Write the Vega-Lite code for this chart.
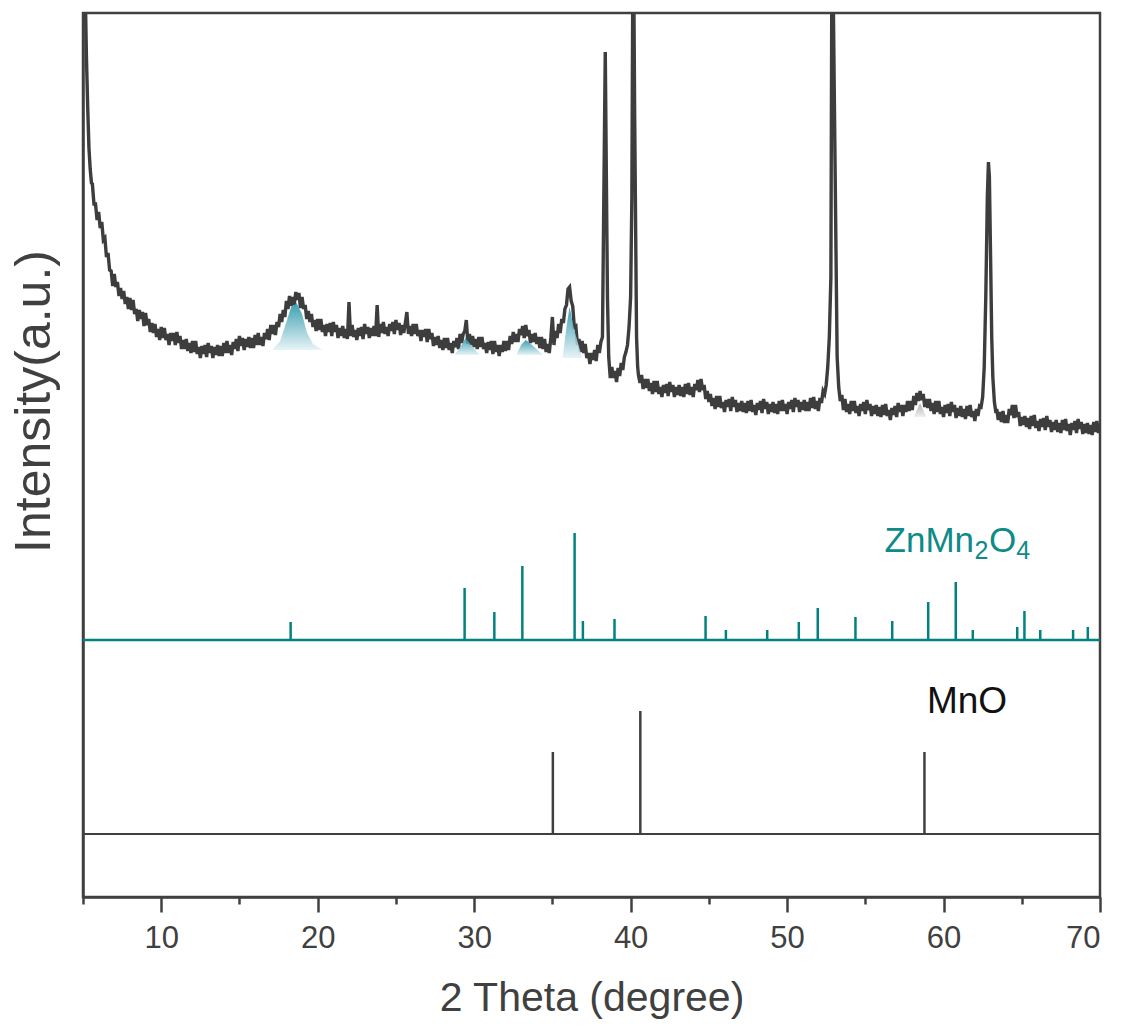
{
  "$schema": "https://vega.github.io/schema/vega-lite/v6.json",
  "width": 1017,
  "height": 884,
  "autosize": {"type": "none"},
  "padding": {"left": 83, "top": 13, "right": 23, "bottom": 131},
  "config": {"view": {"stroke": "#404040", "strokeWidth": 2.5}, "font": "Liberation Sans"},
  "datasets": {
    "xrd": [
      {"x":5.15,"y":900},{"x":5.22,"y":840},{"x":5.3,"y":790},{"x":5.38,"y":749},{"x":5.46,"y":728},{"x":5.54,"y":714},
      {"x":5.6,"y":713},{"x":5.7,"y":693},{"x":5.8,"y":693},{"x":5.9,"y":677},{"x":6.0,"y":685},{"x":6.1,"y":669},{"x":6.2,"y":675},{"x":6.3,"y":657},{"x":6.4,"y":659},{"x":6.5,"y":640},
      {"x":6.6,"y":644},{"x":6.7,"y":627},{"x":6.8,"y":626},{"x":6.9,"y":611},{"x":7.0,"y":623},{"x":7.1,"y":610},{"x":7.2,"y":615},{"x":7.3,"y":601},{"x":7.4,"y":609},{"x":7.5,"y":598},
      {"x":7.6,"y":606},{"x":7.7,"y":593},{"x":7.8,"y":600},{"x":7.9,"y":588},{"x":8.0,"y":599},{"x":8.1,"y":587},{"x":8.2,"y":597},{"x":8.3,"y":583},{"x":8.4,"y":588},{"x":8.5,"y":576},
      {"x":8.6,"y":587},{"x":8.7,"y":578},{"x":8.8,"y":585},{"x":8.9,"y":571},{"x":9.0,"y":584},{"x":9.1,"y":572},{"x":9.2,"y":578},{"x":9.3,"y":565},{"x":9.4,"y":574},{"x":9.5,"y":564},
      {"x":9.6,"y":573},{"x":9.7,"y":560},{"x":9.8,"y":568},{"x":9.9,"y":557},{"x":10.0,"y":570},{"x":10.1,"y":559},{"x":10.2,"y":569},{"x":10.3,"y":557},{"x":10.4,"y":563},{"x":10.5,"y":552},
      {"x":10.6,"y":564},{"x":10.7,"y":556},{"x":10.8,"y":564},{"x":10.9,"y":552},{"x":11.0,"y":565},{"x":11.1,"y":554},{"x":11.2,"y":561},{"x":11.3,"y":548},{"x":11.4,"y":557},{"x":11.5,"y":548},
      {"x":11.6,"y":558},{"x":11.7,"y":546},{"x":11.8,"y":554},{"x":11.9,"y":544},{"x":12.0,"y":556},{"x":12.1,"y":545},{"x":12.2,"y":556},{"x":12.3,"y":543},{"x":12.4,"y":550},{"x":12.5,"y":539},
      {"x":12.6,"y":551},{"x":12.7,"y":543},{"x":12.8,"y":552},{"x":12.9,"y":540},{"x":13.0,"y":554},{"x":13.1,"y":544},{"x":13.2,"y":551},{"x":13.3,"y":539},{"x":13.4,"y":550},{"x":13.5,"y":542},
      {"x":13.6,"y":552},{"x":13.7,"y":541},{"x":13.8,"y":551},{"x":13.9,"y":541},{"x":14.0,"y":554},{"x":14.1,"y":544},{"x":14.2,"y":556},{"x":14.3,"y":544},{"x":14.4,"y":552},{"x":14.5,"y":542},
      {"x":14.6,"y":555},{"x":14.7,"y":548},{"x":14.8,"y":558},{"x":14.9,"y":546},{"x":15.0,"y":561},{"x":15.1,"y":551},{"x":15.2,"y":559},{"x":15.3,"y":547},{"x":15.4,"y":558},{"x":15.5,"y":550},
      {"x":15.6,"y":560},{"x":15.7,"y":549},{"x":15.8,"y":559},{"x":15.9,"y":549},{"x":16.0,"y":562},{"x":16.1,"y":552},{"x":16.2,"y":564},{"x":16.3,"y":552},{"x":16.4,"y":560},{"x":16.5,"y":551},
      {"x":16.6,"y":564},{"x":16.7,"y":558},{"x":16.8,"y":568},{"x":16.9,"y":557},{"x":17.0,"y":572},{"x":17.1,"y":563},{"x":17.2,"y":572},{"x":17.3,"y":562},{"x":17.4,"y":575},{"x":17.5,"y":570},
      {"x":17.6,"y":583},{"x":17.7,"y":575},{"x":17.8,"y":587},{"x":17.9,"y":580},{"x":18.0,"y":596},{"x":18.1,"y":588},{"x":18.2,"y":601},{"x":18.3,"y":591},{"x":18.4,"y":600},{"x":18.5,"y":592},
      {"x":18.6,"y":605},{"x":18.7,"y":597},{"x":18.8,"y":604},{"x":18.9,"y":589},{"x":19.0,"y":600},{"x":19.1,"y":588},{"x":19.2,"y":592},{"x":19.3,"y":578},{"x":19.4,"y":586},{"x":19.5,"y":575},
      {"x":19.6,"y":583},{"x":19.7,"y":570},{"x":19.8,"y":577},{"x":19.9,"y":566},{"x":20.0,"y":578},{"x":20.1,"y":567},{"x":20.2,"y":578},{"x":20.3,"y":565},{"x":20.4,"y":572},{"x":20.5,"y":561},
      {"x":20.6,"y":573},{"x":20.7,"y":565},{"x":20.8,"y":574},{"x":20.9,"y":561},{"x":21.0,"y":575},{"x":21.1,"y":565},{"x":21.2,"y":572},{"x":21.3,"y":559},{"x":21.4,"y":569},{"x":21.5,"y":561},
      {"x":21.6,"y":571},{"x":21.7,"y":559},{"x":21.8,"y":568},{"x":21.9,"y":558},{"x":22.0,"y":595},{"x":22.1,"y":561},{"x":22.2,"y":572},{"x":22.3,"y":560},{"x":22.4,"y":567},{"x":22.5,"y":557},
      {"x":22.6,"y":569},{"x":22.7,"y":561},{"x":22.8,"y":570},{"x":22.9,"y":558},{"x":23.0,"y":573},{"x":23.1,"y":563},{"x":23.2,"y":570},{"x":23.3,"y":559},{"x":23.4,"y":569},{"x":23.5,"y":561},
      {"x":23.6,"y":571},{"x":23.7,"y":561},{"x":23.8,"y":592},{"x":23.9,"y":560},{"x":24.0,"y":573},{"x":24.1,"y":564},{"x":24.2,"y":575},{"x":24.3,"y":563},{"x":24.4,"y":570},{"x":24.5,"y":561},
      {"x":24.6,"y":573},{"x":24.7,"y":566},{"x":24.8,"y":575},{"x":24.9,"y":563},{"x":25.0,"y":577},{"x":25.1,"y":567},{"x":25.2,"y":574},{"x":25.3,"y":562},{"x":25.4,"y":572},{"x":25.5,"y":564},
      {"x":25.6,"y":574},{"x":25.7,"y":585},{"x":25.8,"y":563},{"x":25.9,"y":571},{"x":26.0,"y":561},{"x":26.1,"y":573},{"x":26.2,"y":563},{"x":26.3,"y":573},{"x":26.4,"y":561},{"x":26.5,"y":567},
      {"x":26.6,"y":556},{"x":26.7,"y":567},{"x":26.8,"y":560},{"x":26.9,"y":568},{"x":27.0,"y":555},{"x":27.1,"y":568},{"x":27.2,"y":558},{"x":27.3,"y":564},{"x":27.4,"y":551},{"x":27.5,"y":560},
      {"x":27.6,"y":552},{"x":27.7,"y":561},{"x":27.8,"y":549},{"x":27.9,"y":557},{"x":28.0,"y":547},{"x":28.1,"y":559},{"x":28.2,"y":549},{"x":28.3,"y":559},{"x":28.4,"y":547},{"x":28.5,"y":554},
      {"x":28.6,"y":544},{"x":28.7,"y":556},{"x":28.8,"y":550},{"x":28.9,"y":559},{"x":29.0,"y":548},{"x":29.1,"y":563},{"x":29.2,"y":554},{"x":29.3,"y":563},{"x":29.4,"y":566},{"x":29.5,"y":577},
      {"x":29.6,"y":553},{"x":29.7,"y":563},{"x":29.8,"y":552},{"x":29.9,"y":561},{"x":30.0,"y":550},{"x":30.1,"y":558},{"x":30.2,"y":548},{"x":30.3,"y":560},{"x":30.4,"y":550},{"x":30.5,"y":560},
      {"x":30.6,"y":548},{"x":30.7,"y":554},{"x":30.8,"y":544},{"x":30.9,"y":555},{"x":31.0,"y":547},{"x":31.1,"y":556},{"x":31.2,"y":543},{"x":31.3,"y":556},{"x":31.4,"y":545},{"x":31.5,"y":552},
      {"x":31.6,"y":541},{"x":31.7,"y":552},{"x":31.8,"y":545},{"x":31.9,"y":556},{"x":32.0,"y":546},{"x":32.1,"y":556},{"x":32.2,"y":547},{"x":32.3,"y":561},{"x":32.4,"y":553},{"x":32.5,"y":565},
      {"x":32.6,"y":555},{"x":32.7,"y":563},{"x":32.8,"y":555},{"x":32.9,"y":568},{"x":33.0,"y":562},{"x":33.1,"y":571},{"x":33.2,"y":559},{"x":33.3,"y":572},{"x":33.4,"y":561},{"x":33.5,"y":567},
      {"x":33.6,"y":554},{"x":33.7,"y":563},{"x":33.8,"y":555},{"x":33.9,"y":564},{"x":34.0,"y":553},{"x":34.1,"y":560},{"x":34.2,"y":549},{"x":34.3,"y":560},{"x":34.4,"y":548},{"x":34.5,"y":558},
      {"x":34.6,"y":545},{"x":34.7,"y":553},{"x":34.8,"y":544},{"x":34.9,"y":559},{"x":35.0,"y":580},{"x":35.1,"y":552},{"x":35.2,"y":566},{"x":35.3,"y":559},{"x":35.4,"y":573},{"x":35.5,"y":564},
      {"x":35.6,"y":578},{"x":35.7,"y":574},{"x":35.8,"y":588},{"x":35.9,"y":592},{"x":36.0,"y":608},{"x":36.1,"y":610},{"x":36.2,"y":596},{"x":36.3,"y":591},{"x":36.4,"y":570},{"x":36.5,"y":571},
      {"x":36.6,"y":552},{"x":36.7,"y":558},{"x":36.8,"y":545},{"x":36.9,"y":556},{"x":37.0,"y":544},{"x":37.1,"y":553},{"x":37.2,"y":539},{"x":37.3,"y":544},{"x":37.4,"y":533},{"x":37.5,"y":544},
      {"x":37.6,"y":537},{"x":37.7,"y":547},{"x":37.8,"y":536},{"x":37.9,"y":552},{"x":38.0,"y":544},{"x":38.1,"y":555},{"x":38.2,"y":560},{"x":38.3,"y":720},{"x":38.38,"y":845},{"x":38.45,"y":720},
      {"x":38.52,"y":600},{"x":38.6,"y":540},{"x":38.7,"y":519},{"x":38.8,"y":530},{"x":38.9,"y":519},{"x":39.0,"y":526},{"x":39.1,"y":515},{"x":39.2,"y":529},{"x":39.3,"y":521},{"x":39.4,"y":534},
      {"x":39.5,"y":527},{"x":39.6,"y":540},{"x":39.7,"y":545},{"x":39.8,"y":552},{"x":39.9,"y":570},{"x":40.0,"y":600},{"x":40.08,"y":700},{"x":40.14,"y":920},{"x":40.2,"y":920},{"x":40.26,"y":780},
      {"x":40.32,"y":670},{"x":40.38,"y":560},{"x":40.45,"y":530},{"x":40.5,"y":522},{"x":40.6,"y":514},{"x":40.7,"y":522},{"x":40.8,"y":508},{"x":40.9,"y":518},{"x":41.0,"y":509},{"x":41.1,"y":518},
      {"x":41.2,"y":506},{"x":41.3,"y":514},{"x":41.4,"y":503},{"x":41.5,"y":516},{"x":41.6,"y":505},{"x":41.7,"y":516},{"x":41.8,"y":503},{"x":41.9,"y":510},{"x":42.0,"y":500},{"x":42.1,"y":512},
      {"x":42.2,"y":504},{"x":42.3,"y":513},{"x":42.4,"y":501},{"x":42.5,"y":515},{"x":42.6,"y":505},{"x":42.7,"y":512},{"x":42.8,"y":500},{"x":42.9,"y":510},{"x":43.0,"y":502},{"x":43.1,"y":512},
      {"x":43.2,"y":501},{"x":43.3,"y":510},{"x":43.4,"y":500},{"x":43.5,"y":513},{"x":43.6,"y":503},{"x":43.7,"y":514},{"x":43.8,"y":502},{"x":43.9,"y":510},{"x":44.0,"y":500},{"x":44.1,"y":513},
      {"x":44.2,"y":507},{"x":44.3,"y":517},{"x":44.4,"y":505},{"x":44.5,"y":518},{"x":44.6,"y":507},{"x":44.7,"y":512},{"x":44.8,"y":498},{"x":44.9,"y":506},{"x":45.0,"y":495},{"x":45.1,"y":503},
      {"x":45.2,"y":491},{"x":45.3,"y":499},{"x":45.4,"y":488},{"x":45.5,"y":501},{"x":45.6,"y":490},{"x":45.7,"y":501},{"x":45.8,"y":489},{"x":45.9,"y":495},{"x":46.0,"y":485},{"x":46.1,"y":497},
      {"x":46.2,"y":490},{"x":46.3,"y":498},{"x":46.4,"y":486},{"x":46.5,"y":500},{"x":46.6,"y":490},{"x":46.7,"y":497},{"x":46.8,"y":485},{"x":46.9,"y":494},{"x":47.0,"y":486},{"x":47.1,"y":496},
      {"x":47.2,"y":485},{"x":47.3,"y":494},{"x":47.4,"y":484},{"x":47.5,"y":496},{"x":47.6,"y":486},{"x":47.7,"y":497},{"x":47.8,"y":485},{"x":47.9,"y":492},{"x":48.0,"y":482},{"x":48.1,"y":494},
      {"x":48.2,"y":487},{"x":48.3,"y":496},{"x":48.4,"y":484},{"x":48.5,"y":498},{"x":48.6,"y":488},{"x":48.7,"y":495},{"x":48.8,"y":483},{"x":48.9,"y":493},{"x":49.0,"y":485},{"x":49.1,"y":495},
      {"x":49.2,"y":484},{"x":49.3,"y":493},{"x":49.4,"y":483},{"x":49.5,"y":496},{"x":49.6,"y":486},{"x":49.7,"y":497},{"x":49.8,"y":486},{"x":49.9,"y":493},{"x":50.0,"y":483},{"x":50.1,"y":495},
      {"x":50.2,"y":488},{"x":50.3,"y":497},{"x":50.4,"y":485},{"x":50.5,"y":499},{"x":50.6,"y":490},{"x":50.7,"y":497},{"x":50.8,"y":485},{"x":50.9,"y":495},{"x":51.0,"y":487},{"x":51.1,"y":497},
      {"x":51.2,"y":486},{"x":51.3,"y":495},{"x":51.4,"y":486},{"x":51.5,"y":499},{"x":51.6,"y":489},{"x":51.7,"y":500},{"x":51.8,"y":488},{"x":51.9,"y":496},{"x":52.0,"y":486},{"x":52.1,"y":499},
      {"x":52.2,"y":494},{"x":52.3,"y":506},{"x":52.4,"y":503},{"x":52.5,"y":512},{"x":52.6,"y":530},{"x":52.7,"y":560},{"x":52.8,"y":620},{"x":52.86,"y":920},{"x":52.94,"y":920},{"x":53.02,"y":800},
      {"x":53.1,"y":684},{"x":53.2,"y":540},{"x":53.3,"y":510},{"x":53.4,"y":496},{"x":53.5,"y":502},{"x":53.6,"y":487},{"x":53.7,"y":498},{"x":53.8,"y":485},{"x":53.9,"y":493},{"x":54.0,"y":483},
      {"x":54.1,"y":496},{"x":54.2,"y":486},{"x":54.3,"y":496},{"x":54.4,"y":484},{"x":54.5,"y":491},{"x":54.6,"y":481},{"x":54.7,"y":493},{"x":54.8,"y":486},{"x":54.9,"y":495},{"x":55.0,"y":483},
      {"x":55.1,"y":497},{"x":55.2,"y":487},{"x":55.3,"y":493},{"x":55.4,"y":481},{"x":55.5,"y":491},{"x":55.6,"y":483},{"x":55.7,"y":492},{"x":55.8,"y":481},{"x":55.9,"y":490},{"x":56.0,"y":480},
      {"x":56.1,"y":492},{"x":56.2,"y":482},{"x":56.3,"y":493},{"x":56.4,"y":481},{"x":56.5,"y":487},{"x":56.6,"y":477},{"x":56.7,"y":489},{"x":56.8,"y":482},{"x":56.9,"y":491},{"x":57.0,"y":480},
      {"x":57.1,"y":494},{"x":57.2,"y":485},{"x":57.3,"y":492},{"x":57.4,"y":481},{"x":57.5,"y":492},{"x":57.6,"y":485},{"x":57.7,"y":496},{"x":57.8,"y":486},{"x":57.9,"y":496},{"x":58.0,"y":487},
      {"x":58.1,"y":501},{"x":58.2,"y":492},{"x":58.3,"y":504},{"x":58.4,"y":496},{"x":58.5,"y":506},{"x":58.6,"y":497},{"x":58.7,"y":503},{"x":58.8,"y":490},{"x":58.9,"y":498},{"x":59.0,"y":489},
      {"x":59.1,"y":498},{"x":59.2,"y":486},{"x":59.3,"y":494},{"x":59.4,"y":483},{"x":59.5,"y":496},{"x":59.6,"y":485},{"x":59.7,"y":496},{"x":59.8,"y":483},{"x":59.9,"y":490},{"x":60.0,"y":480},
      {"x":60.1,"y":492},{"x":60.2,"y":484},{"x":60.3,"y":493},{"x":60.4,"y":481},{"x":60.5,"y":495},{"x":60.6,"y":485},{"x":60.7,"y":492},{"x":60.8,"y":479},{"x":60.9,"y":489},{"x":61.0,"y":481},
      {"x":61.1,"y":491},{"x":61.2,"y":480},{"x":61.3,"y":488},{"x":61.4,"y":478},{"x":61.5,"y":491},{"x":61.6,"y":481},{"x":61.7,"y":492},{"x":61.8,"y":480},{"x":61.9,"y":486},{"x":62.0,"y":476},
      {"x":62.1,"y":488},{"x":62.2,"y":481},{"x":62.3,"y":491},{"x":62.4,"y":490},{"x":62.5,"y":500},{"x":62.6,"y":530},{"x":62.7,"y":600},{"x":62.8,"y":700},{"x":62.87,"y":735},{"x":62.93,"y":720},
      {"x":63.0,"y":647},{"x":63.08,"y":560},{"x":63.15,"y":520},{"x":63.25,"y":495},{"x":63.35,"y":484},{"x":63.4,"y":488},{"x":63.5,"y":477},{"x":63.6,"y":485},{"x":63.7,"y":475},{"x":63.8,"y":486},
      {"x":63.9,"y":474},{"x":64.0,"y":482},{"x":64.1,"y":474},{"x":64.2,"y":488},{"x":64.3,"y":482},{"x":64.4,"y":492},{"x":64.5,"y":479},{"x":64.6,"y":492},{"x":64.7,"y":480},{"x":64.8,"y":485},
      {"x":64.9,"y":471},{"x":65.0,"y":480},{"x":65.1,"y":472},{"x":65.2,"y":481},{"x":65.3,"y":470},{"x":65.4,"y":479},{"x":65.5,"y":468},{"x":65.6,"y":481},{"x":65.7,"y":471},{"x":65.8,"y":482},
      {"x":65.9,"y":469},{"x":66.0,"y":476},{"x":66.1,"y":466},{"x":66.2,"y":478},{"x":66.3,"y":470},{"x":66.4,"y":479},{"x":66.5,"y":467},{"x":66.6,"y":481},{"x":66.7,"y":470},{"x":66.8,"y":477},
      {"x":66.9,"y":465},{"x":67.0,"y":475},{"x":67.1,"y":467},{"x":67.2,"y":477},{"x":67.3,"y":465},{"x":67.4,"y":474},{"x":67.5,"y":464},{"x":67.6,"y":477},{"x":67.7,"y":467},{"x":67.8,"y":478},
      {"x":67.9,"y":466},{"x":68.0,"y":473},{"x":68.1,"y":462},{"x":68.2,"y":474},{"x":68.3,"y":467},{"x":68.4,"y":476},{"x":68.5,"y":464},{"x":68.6,"y":478},{"x":68.7,"y":468},{"x":68.8,"y":475},
      {"x":68.9,"y":463},{"x":69.0,"y":473},{"x":69.1,"y":464},{"x":69.2,"y":474},{"x":69.3,"y":463},{"x":69.4,"y":472},{"x":69.5,"y":462},{"x":69.6,"y":475},{"x":69.7,"y":465},{"x":69.8,"y":476},
      {"x":69.9,"y":464},{"x":70.0,"y":471}
    ],
    "fills": [
      {"r":"a","x":17.1,"y":547,"y2":547},{"r":"a","x":17.6,"y":556,"y2":547},{"r":"a","x":18.0,"y":575,"y2":547},{"r":"a","x":18.3,"y":590,"y2":547},{"r":"a","x":18.65,"y":594,"y2":547},{"r":"a","x":19.0,"y":583,"y2":547},{"r":"a","x":19.3,"y":565,"y2":547},{"r":"a","x":19.7,"y":553,"y2":547},{"r":"a","x":20.3,"y":547,"y2":547},
      {"r":"b","x":28.75,"y":542,"y2":542},{"r":"b","x":29.2,"y":552,"y2":542},{"r":"b","x":29.45,"y":559,"y2":542},{"r":"b","x":29.8,"y":552,"y2":542},{"r":"b","x":30.35,"y":542,"y2":542},
      {"r":"c","x":32.7,"y":542,"y2":542},{"r":"c","x":33.0,"y":552,"y2":542},{"r":"c","x":33.3,"y":557,"y2":542},{"r":"c","x":33.7,"y":552,"y2":542},{"r":"c","x":34.4,"y":542,"y2":542},
      {"r":"d","x":35.65,"y":539,"y2":539},{"r":"d","x":35.9,"y":570,"y2":539},{"r":"d","x":36.1,"y":590,"y2":539},{"r":"d","x":36.35,"y":570,"y2":539},{"r":"d","x":36.9,"y":539,"y2":539}
    ],
    "grayfill": [
      {"r":"e","x":58.1,"y":480,"y2":480},{"r":"e","x":58.5,"y":494,"y2":480},{"r":"e","x":58.9,"y":480,"y2":480}
    ],
    "zmo": [
      {"x":18.27,"y":275},{"x":29.39,"y":309},{"x":31.29,"y":285},{"x":33.08,"y":331},{"x":36.42,"y":364},{"x":36.95,"y":276},{"x":38.97,"y":278},{"x":44.79,"y":281},{"x":46.09,"y":267},{"x":48.73,"y":267},{"x":50.75,"y":275},
      {"x":51.96,"y":289},{"x":54.37,"y":280},{"x":56.72,"y":276},{"x":59.02,"y":295},{"x":60.78,"y":315},{"x":61.87,"y":267},{"x":64.71,"y":270},{"x":65.17,"y":286},{"x":66.18,"y":267},{"x":68.28,"y":267},{"x":69.22,"y":270}
    ],
    "mno": [
      {"x":35.03,"y":145},{"x":40.62,"y":186},{"x":58.78,"y":145}
    ]
  },
  "encoding": {
    "x": {
      "field": "x", "type": "quantitative",
      "scale": {"domain": [5, 70], "nice": false, "zero": false},
      "axis": {
        "title": "2 Theta (degree)",
        "values": [5, 10, 15, 20, 25, 30, 35, 40, 45, 50, 55, 60, 65, 70],
        "labelExpr": "datum.value % 10 === 0 ? datum.label : ''",
        "grid": false,
        "domainColor": "#404040", "domainWidth": 2.5,
        "tickColor": "#404040", "tickWidth": 2.5,
        "tickSize": {"condition": {"test": "datum.value % 10 === 0", "value": 15}, "value": 7},
        "labelFont": "Liberation Sans", "labelFontSize": 31, "labelColor": "#404040", "labelPadding": 11,
        "titleFont": "Liberation Sans", "titleFontSize": 41, "titleFontWeight": "normal", "titleColor": "#404040", "titlePadding": 25
      }
    },
    "y": {
      "field": "y", "type": "quantitative",
      "scale": {"domain": [0, 884], "nice": false, "zero": false},
      "axis": {
        "title": "Intensity(a.u.)",
        "ticks": false, "labels": false, "grid": false,
        "domainColor": "#404040", "domainWidth": 2.5,
        "titleFont": "Liberation Sans", "titleFontSize": 50, "titleFontWeight": "normal", "titleColor": "#404040",
        "titlePadding": 24, "titleY": 388
      }
    }
  },
  "layer": [
    {
      "data": {"name": "xrd"},
      "mark": {"type": "line", "color": "#3d3d3d", "strokeWidth": 3.4, "strokeJoin": "miter", "clip": true}
    },
    {
      "data": {"name": "fills"},
      "mark": {"type": "area", "clip": true, "opacity": 0.85,
        "color": {"gradient": "linear", "x1": 0, "y1": 0, "x2": 0, "y2": 1,
          "stops": [{"offset": 0, "color": "#1a8ea3"}, {"offset": 1, "color": "#e3f2f5"}]}},
      "encoding": {"y2": {"field": "y2"}, "detail": {"field": "r"}}
    },
    {
      "data": {"name": "grayfill"},
      "mark": {"type": "area", "clip": true, "opacity": 0.8,
        "color": {"gradient": "linear", "x1": 0, "y1": 0, "x2": 0, "y2": 1,
          "stops": [{"offset": 0, "color": "#9a9a9a"}, {"offset": 1, "color": "#eeeeee"}]}},
      "encoding": {"y2": {"field": "y2"}, "detail": {"field": "r"}}
    },
    {
      "data": {"values": [{"x": 5, "x2": 70, "y": 257}]},
      "mark": {"type": "rule", "color": "#00827f", "strokeWidth": 2.5},
      "encoding": {"x2": {"field": "x2"}}
    },
    {
      "data": {"name": "zmo"},
      "mark": {"type": "rule", "color": "#00827f", "strokeWidth": 2.5},
      "encoding": {"y2": {"datum": 257}}
    },
    {
      "data": {"values": [{"x": 5, "x2": 70, "y": 63}]},
      "mark": {"type": "rule", "color": "#404040", "strokeWidth": 2},
      "encoding": {"x2": {"field": "x2"}}
    },
    {
      "data": {"name": "mno"},
      "mark": {"type": "rule", "color": "#404040", "strokeWidth": 2.5},
      "encoding": {"y2": {"datum": 63}}
    },
    {
      "data": {"values": [{"x": 56.23, "y": 345, "t": "ZnMn"}, {"x": 62.9, "y": 345, "t": "O"}]},
      "mark": {"type": "text", "font": "Liberation Sans", "fontSize": 35, "color": "#0e8a88", "align": "left", "baseline": "alphabetic"},
      "encoding": {"text": {"field": "t"}}
    },
    {
      "data": {"values": [{"x": 61.98, "y": 338, "t": "2"}, {"x": 64.65, "y": 338, "t": "4"}]},
      "mark": {"type": "text", "font": "Liberation Sans", "fontSize": 25, "color": "#0e8a88", "align": "left", "baseline": "alphabetic"},
      "encoding": {"text": {"field": "t"}}
    },
    {
      "data": {"values": [{"x": 61.5, "y": 184, "t": "MnO"}]},
      "mark": {"type": "text", "font": "Liberation Sans", "fontSize": 37, "color": "#111111", "align": "center", "baseline": "alphabetic"},
      "encoding": {"text": {"field": "t"}}
    }
  ]
}
